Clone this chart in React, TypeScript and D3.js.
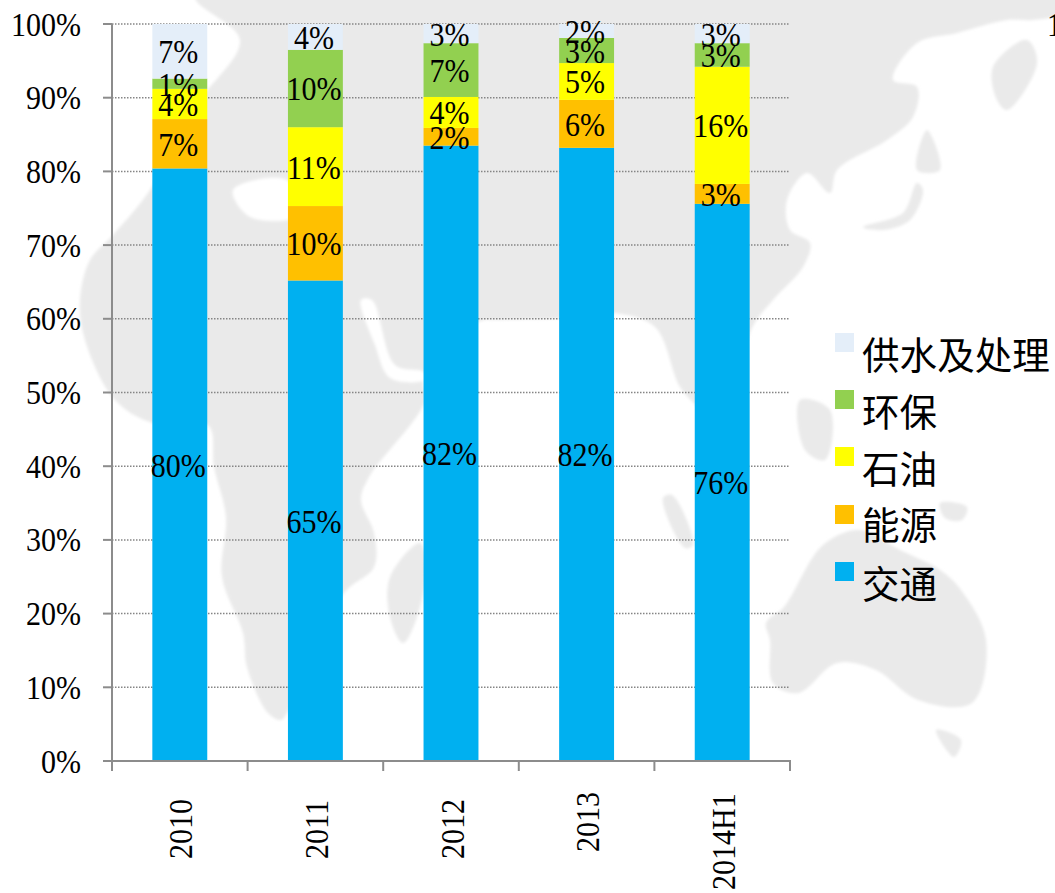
import React from "react";
import * as d3 from "d3";

const categories = ["2010", "2011", "2012", "2013", "2014H1"];
const seriesNames = ["交通", "能源", "石油", "环保", "供水及处理"];
const seriesColors = ["#00B0F0", "#FFC000", "#FFFF00", "#92D050", "#E4EEF9"];

// Drawn segment heights (percent of the column)
const transport = [80.4, 65.2, 83.5, 83.2, 75.6];
const energy = [6.7, 10.1, 2.4, 6.5, 2.7];
const oil = [4.1, 10.7, 4.2, 5.0, 15.9];
const environment = [1.4, 10.5, 7.3, 3.4, 3.2];
const water = [7.4, 3.5, 2.6, 1.9, 2.6];

// Printed data labels (they do not always agree with the drawn heights)
const transportLabels = ["80%", "65%", "82%", "82%", "76%"];
const energyLabels = ["7%", "10%", "2%", "6%", "3%"];
const oilLabels = ["4%", "11%", "4%", "5%", "16%"];
const environmentLabels = ["1%", "10%", "7%", "3%", "3%"];
const waterLabels = ["7%", "4%", "3%", "2%", "3%"];

const yTicks = [0, 10, 20, 30, 40, 50, 60, 70, 80, 90, 100];

const seriesValues = [transport, energy, oil, environment, water];
const seriesLabels = [transportLabels, energyLabels, oilLabels, environmentLabels, waterLabels];

// Faded world map in the background, page pixels
const mapLand: [number, number][][] = [
  [[195,-5],[1060,-5],[1060,13],[1033,20],[1007,20],[957,33],[917,43],[893,80],[917,87],[913,117],[887,140],[837,170],[830,193],[807,173],[787,200],[790,230],[810,243],[803,267],[773,300],[752,328],[720,440],[700,410],[680,387],[655,327],[613,313],[570,318],[500,320],[478,322],[424,377],[424,403],[369,477],[361,500],[374,533],[374,567],[344,593],[300,680],[287,713],[281,720],[268,713],[247,667],[243,633],[222,577],[226,517],[214,467],[208,425],[153,423],[115,400],[85,340],[80,300],[90,260],[113,235],[150,190],[170,150],[200,100],[240,40]],
  [[390,577],[420,543],[426,567],[416,620],[403,643],[390,617]],
  [[770,640],[766,623],[784,607],[823,545],[860,530],[900,550],[940,570],[961,590],[986,640],[972,703],[918,700],[876,670],[837,663],[798,693],[773,683]],
  [[936,730],[961,740],[954,757]],
  [[993,67],[1027,40],[1037,63],[1007,110],[997,100]],
  [[917,170],[927,130],[940,170]],
  [[863,227],[903,213],[917,183],[923,190],[910,220],[883,230]],
  [[663,498],[672,495],[693,545],[685,548]],
  [[800,400],[830,410],[825,460],[805,450]],
  [[940,503],[967,507],[962,520],[945,518]],
];
const mapWater: [number, number][][] = [
  [[233,190],[287,180],[300,215],[250,217]],
  [[361,300],[372,300],[395,365],[424,372],[424,380],[390,378],[375,345]],
];

const seriesY = [333, 390, 447, 505, 562];
const legendOrder = [4, 3, 2, 1, 0];
const legendTextY = [369, 426, 483, 539, 598];
const xLabelBottom = [859, 859, 859, 852, 890];

const W = 1055, H = 893;
const left = 112, right = 790, top = 24, bottom = 761;
const serif = "'Liberation Serif','Times New Roman',serif";
const cjk = "'Noto Sans CJK SC','Noto Sans',sans-serif";
const fs = 33;
const squeeze = 0.91;

function T({ x, y, rotate = 0, anchor = "start", children }: any) {
  return (
    <text transform={`translate(${x},${y}) rotate(${rotate}) scale(${squeeze},1)`} textAnchor={anchor}>
      {children}
    </text>
  );
}

export default function App() {
  const outer = d3.scaleBand<string>().domain(categories).range([left, right]);
  const x = d3.scaleBand<string>().domain(categories).range([left, right]).paddingInner(0.595).paddingOuter(0.2975);
  const y = d3.scaleLinear().domain([0, 100]).range([bottom, top]);

  const rows = categories.map((c, i) => {
    const r: Record<string, number | string> = { category: c };
    seriesNames.forEach((s, j) => { r[s] = seriesValues[j][i]; });
    return r;
  });
  const stacked = d3.stack<any>().keys(seriesNames)(rows);
  const blob = d3.line().curve(d3.curveCatmullRomClosed.alpha(0.5));
  const boundaries = [...categories.map((c) => outer(c) as number), right];

  return (
    <svg width={W} height={H} style={{ position: "fixed", left: 0, top: 0, background: "#fff" }}>
      <defs>
        <filter id="soft" x="-5%" y="-5%" width="110%" height="110%">
          <feGaussianBlur stdDeviation="1.8" />
        </filter>
      </defs>
      <g filter="url(#soft)">
        {mapLand.map((p, i) => <path key={i} d={blob(p) as string} fill="#eaeaea" />)}
        {mapWater.map((p, i) => <path key={i} d={blob(p) as string} fill="#fff" />)}
      </g>

      {yTicks.map((t) => (
        <line key={t} x1={left} x2={right} y1={y(t)} y2={y(t)} stroke="#858585" strokeWidth={1.5} strokeDasharray="1.5 1.5" />
      ))}

      {stacked.map((s, j) => (
        <g key={s.key} fill={seriesColors[j]}>
          {s.map((d, i) => (
            <rect key={i} x={x(categories[i])} width={x.bandwidth()} y={y(Math.min(d[1], 100))} height={y(d[0]) - y(Math.min(d[1], 100))} />
          ))}
        </g>
      ))}

      <line x1={left} x2={left} y1={top} y2={bottom} stroke="#8c8c8c" strokeWidth={2} />
      <line x1={left - 9} x2={right + 1} y1={bottom} y2={bottom} stroke="#8c8c8c" strokeWidth={2} />
      {yTicks.map((t) => (
        <line key={t} x1={left - 9} x2={left} y1={y(t)} y2={y(t)} stroke="#8c8c8c" strokeWidth={2} />
      ))}
      {boundaries.map((b, i) => (
        <line key={i} x1={b} x2={b} y1={bottom} y2={bottom + 10} stroke="#8c8c8c" strokeWidth={2} />
      ))}

      <g fontFamily={serif} fontSize={fs} fill="#000">
        {yTicks.map((t) => (
          <T key={t} x={81} y={y(t) + 11.5} anchor="end">{t}%</T>
        ))}
        <T x={1047} y={top + 11.5}>1</T>
        {categories.map((c, i) => (
          <T key={c} x={(x(c) as number) + x.bandwidth() / 2 + 12.5} y={xLabelBottom[i]} rotate={-90}>{c}</T>
        ))}
        {stacked.map((s, j) =>
          s.map((d, i) => (
            <T
              key={`${j}-${i}`}
              x={(x(categories[i]) as number) + x.bandwidth() / 2 - 1.5}
              y={(y(d[0]) + y(Math.min(d[1], 100))) / 2 + 12}
              anchor="middle"
            >
              {seriesLabels[j][i]}
            </T>
          ))
        )}
      </g>

      {legendOrder.map((si, k) => (
        <g key={si}>
          <rect x={835} y={seriesY[k]} width={19} height={19} fill={seriesColors[si]} />
          <text x={862} y={legendTextY[k]} fontFamily={cjk} fontSize={37.6} fill="#000">{seriesNames[si]}</text>
        </g>
      ))}
    </svg>
  );
}
